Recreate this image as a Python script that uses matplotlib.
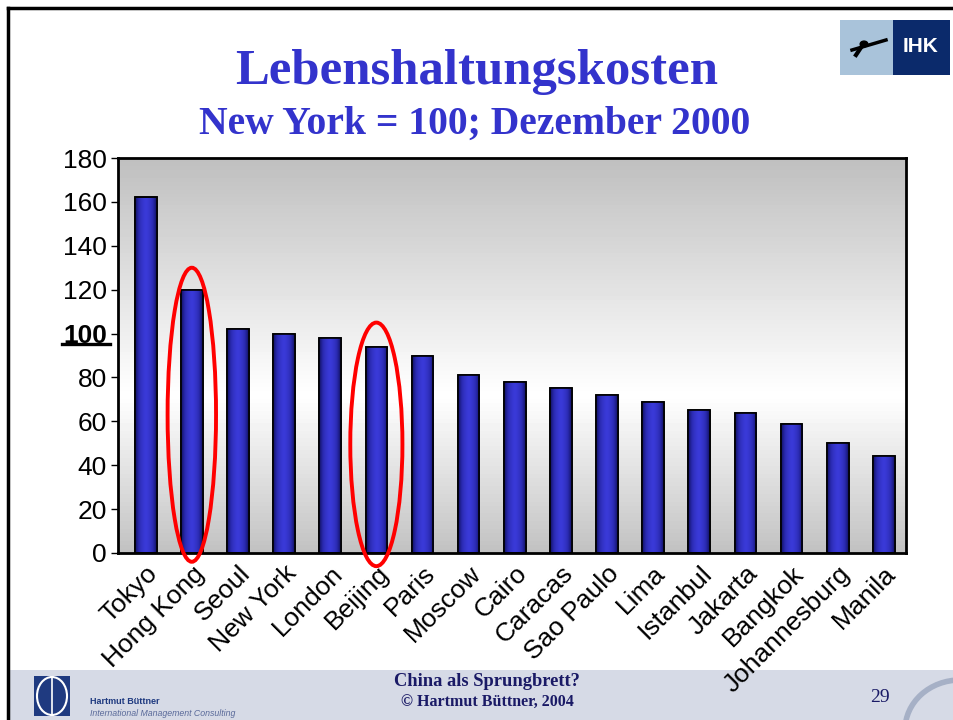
import numpy as np
import matplotlib
matplotlib.use("Agg")
import matplotlib.pyplot as plt
from matplotlib.patches import Rectangle, Ellipse, Circle
from matplotlib.lines import Line2D

cities = ["Tokyo", "Hong Kong", "Seoul", "New York", "London", "Beijing", "Paris",
          "Moscow", "Cairo", "Caracas", "Sao Paulo", "Lima", "Istanbul", "Jakarta",
          "Bangkok", "Johannesburg", "Manila"]
values = [162, 120, 102, 100, 98, 94, 90, 81, 78, 75, 72, 69, 65, 64, 59, 50, 44]
yticks = [0, 20, 40, 60, 80, 100, 120, 140, 160, 180]
highlighted = ["Hong Kong", "Beijing"]

title = "Lebenshaltungskosten"
subtitle = "New York = 100; Dezember 2000"

W, H = 954, 720
fig = plt.figure(figsize=(W / 100, H / 100), dpi=100)
fig.patch.set_facecolor("white")

def fx(px):
    return px / W

def fy(py):
    return 1 - py / H

# slide border
fig.add_artist(Line2D([fx(8), fx(8)], [fy(8), 0], color="black", lw=2.5, transform=fig.transFigure))
fig.add_artist(Line2D([fx(8), 1], [fy(8), fy(8)], color="black", lw=2.5, transform=fig.transFigure))

# footer band
fig.add_artist(Rectangle((fx(9), 0), 1 - fx(9), fy(670), transform=fig.transFigure,
                         facecolor="#d6dae6", edgecolor="none", zorder=0))

ax = fig.add_axes([fx(118), fy(553), fx(906) - fx(118), fy(158) - fy(553)])
x = np.arange(len(cities))
XL = (-0.6, len(cities) - 1 + 0.48)
ax.set_xlim(*XL)
ax.set_ylim(0, 180)

# background gradient
grad = np.concatenate([np.linspace(0.75, 1.0, 60), np.linspace(1.0, 0.76, 40)])
ax.imshow(grad[:, None], cmap="gray", vmin=0, vmax=1, aspect="auto",
          extent=[XL[0], XL[1], 0, 180], origin="upper", zorder=0)

bars = ax.bar(x, values, width=0.47, color="#3232c8", edgecolor="black", linewidth=1.2, zorder=2)
# horizontal gradient in bars
hg = np.abs(np.linspace(-1, 1, 50))
cm = matplotlib.colors.LinearSegmentedColormap.from_list("b", ["#3a3ad8", "#2a2ab0", "#101060"])
for b in bars:
    x0, w, h = b.get_x(), b.get_width(), b.get_height()
    im = ax.imshow(hg[None, :] ** 1.6, cmap=cm, vmin=0, vmax=1, aspect="auto",
                   extent=[x0, x0 + w, 0, h], zorder=2.5)
    im.set_clip_path(b)
    ax.add_patch(Rectangle((x0, 0), w, h, facecolor="none", edgecolor="black", lw=1.2, zorder=3))
ax.set_xlim(*XL)
ax.set_ylim(0, 180)

ax.set_yticks(yticks)
ax.set_yticklabels([str(v) for v in yticks], fontsize=19, family="Liberation Sans")
for lab in ax.get_yticklabels():
    if lab.get_text() == "100":
        lab.set_fontweight("bold")
ax.tick_params(axis="y", length=5, width=1, direction="out", pad=3)
ax.set_xticks(x)
ax.set_xticklabels(cities, rotation=45, ha="right", rotation_mode="anchor",
                   fontsize=19, family="Liberation Sans")
ax.tick_params(axis="x", length=0, pad=6)
for s in ax.spines.values():
    s.set_linewidth(2)
    s.set_zorder(5)

# underline for 100
fig.add_artist(Line2D([fx(62), fx(110)], [fy(344), fy(344)], color="black", lw=2.4,
                      transform=fig.transFigure))

# red ellipses
ell = {"Hong Kong": (63, 1.05, 134), "Beijing": (49.5, 1.13, 111)}
for c in highlighted:
    i = cities.index(c)
    cy, w, h = ell[c]
    ax.add_patch(Ellipse((i, cy), w, h, facecolor="none", edgecolor="#ff0000", lw=2.8,
                         clip_on=False, zorder=6))

# titles
fig.text(fx(477), fy(72), title, ha="center", va="center", fontsize=36.5,
         fontweight="bold", family="Liberation Serif", color="#3333cc")
fig.text(fx(475), fy(124), subtitle, ha="center", va="center", fontsize=28.5,
         fontweight="bold", family="Liberation Serif", color="#3333cc")

# IHK logo
fig.add_artist(Rectangle((fx(840), fy(75)), fx(53), fy(20) - fy(75), transform=fig.transFigure,
                         facecolor="#a9c3da", edgecolor="none"))
fig.add_artist(Rectangle((fx(893), fy(75)), fx(57), fy(20) - fy(75), transform=fig.transFigure,
                         facecolor="#0b2a6b", edgecolor="none"))
fig.text(fx(921), fy(47), "IHK", ha="center", va="center", fontsize=15, fontweight="bold",
         family="Liberation Sans", color="white")
fig.add_artist(Line2D([fx(852), fx(886)], [fy(50), fy(40)], color="black", lw=2.5,
                      transform=fig.transFigure))
fig.add_artist(Line2D([fx(856), fx(862)], [fy(55), fy(46)], color="black", lw=3,
                      transform=fig.transFigure))
fig.add_artist(Circle((fx(864), fy(44)), 0.004, transform=fig.transFigure, color="black"))

# footer texts
fig.text(fx(487), fy(681), "China als Sprungbrett?", ha="center", va="center", fontsize=13.3,
         fontweight="bold", family="Liberation Serif", color="#1a1a66")
fig.text(fx(487), fy(703), "© Hartmut Büttner, 2004", ha="center", va="center", fontsize=11.5,
         fontweight="bold", family="Liberation Serif", color="#1a1a66")
fig.text(fx(880), fy(697), "29", ha="center", va="center", fontsize=14,
         family="Liberation Serif", color="#1a1a66")
fig.add_artist(Rectangle((fx(34), fy(716)), fx(36), fy(676) - fy(716), transform=fig.transFigure,
                         facecolor="#1f3a80", edgecolor="none"))
fig.add_artist(Ellipse((fx(52), fy(696)), fx(30), fy(676) - fy(714), transform=fig.transFigure,
                       facecolor="none", edgecolor="white", lw=1.5))
fig.add_artist(Line2D([fx(52), fx(52)], [fy(678), fy(714)], color="white", lw=1.2,
                      transform=fig.transFigure))
fig.text(fx(90), fy(701), "Hartmut Büttner", ha="left", va="center", fontsize=6.5,
         fontweight="bold", family="Liberation Sans", color="#1f3a80")
fig.text(fx(90), fy(713), "International Management Consulting", ha="left", va="center",
         fontsize=6.3, style="italic", family="Liberation Sans", color="#5a6a9a")
fig.add_artist(Ellipse((fx(960), fy(730)), fx(110), fy(680) - fy(780), transform=fig.transFigure,
                       facecolor="none", edgecolor="#a6b0c6", lw=4))

fig.savefig("out.png", dpi=100)
